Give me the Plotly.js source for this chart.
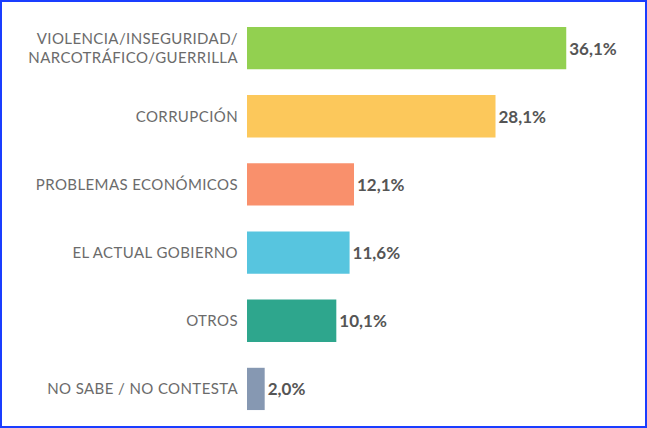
<!DOCTYPE html>
<html>
<head>
<meta charset="utf-8">
<script src="https://cdn.plot.ly/plotly-3.0.1.min.js"></script>
<style>
  html, body { margin: 0; padding: 0; background: #fff; }
  #wrap { position: relative; width: 647px; height: 428px; }
  #chart { width: 647px; height: 428px; }
  #chart .ytick text { letter-spacing: 0.4px; }
  #frame {
    position: absolute; left: 0; top: 0; width: 647px; height: 428px;
    box-sizing: border-box; border: 2px solid #1a3dff; pointer-events: none;
  }
</style>
</head>
<body>
<div id="wrap">
  <div id="chart"></div>
  <div id="frame"></div>
</div>
<script>
// Main problem of the country (%), top to bottom
const categories = [
  'VIOLENCIA/INSEGURIDAD/<br>NARCOTRÁFICO/GUERRILLA',
  'CORRUPCIÓN',
  'PROBLEMAS ECONÓMICOS',
  'EL ACTUAL GOBIERNO',
  'OTROS',
  'NO SABE / NO CONTESTA',
];
const values = [36.1, 28.1, 12.1, 11.6, 10.1, 2.0];
const barColors = ['#92d050', '#fcc85b', '#f9906c', '#57c5df', '#2ea68d', '#8698b2'];

// labels use comma as decimal separator
const labels = values.map(v => v.toFixed(1).replace('.', ',') + '%');

const traces = [
  {
    type: 'bar',
    orientation: 'h',
    x: values,
    y: categories,
    marker: { color: barColors },
    text: labels,
    textposition: 'outside',
    cliponaxis: false,
    textfont: { family: 'Lato, sans-serif', size: 17, color: '#555555', weight: 'bold' },
    hoverinfo: 'skip',
  },
];

const layout = {
  width: 647,
  height: 428,
  paper_bgcolor: '#ffffff',
  plot_bgcolor: '#ffffff',
  margin: { t: 14, r: 10, b: 5, l: 247 },
  bargap: 0.38,
  showlegend: false,
  font: { family: 'Lato, sans-serif', color: '#6b6b6b', size: 15 },
  xaxis: {
    range: [0, 44.1],
    visible: false,
    fixedrange: true,
  },
  yaxis: {
    type: 'category',
    categoryorder: 'array',
    categoryarray: categories,
    range: [5.5, -0.5],
    showgrid: false,
    zeroline: false,
    showline: false,
    ticks: '',
    ticklabelstandoff: 8,
    tickfont: { family: 'Lato, sans-serif', size: 15, color: '#6b6b6b' },
    fixedrange: true,
  },
};

Plotly.newPlot('chart', traces, layout, { displayModeBar: false, staticPlot: true });
</script>
</body>
</html>
